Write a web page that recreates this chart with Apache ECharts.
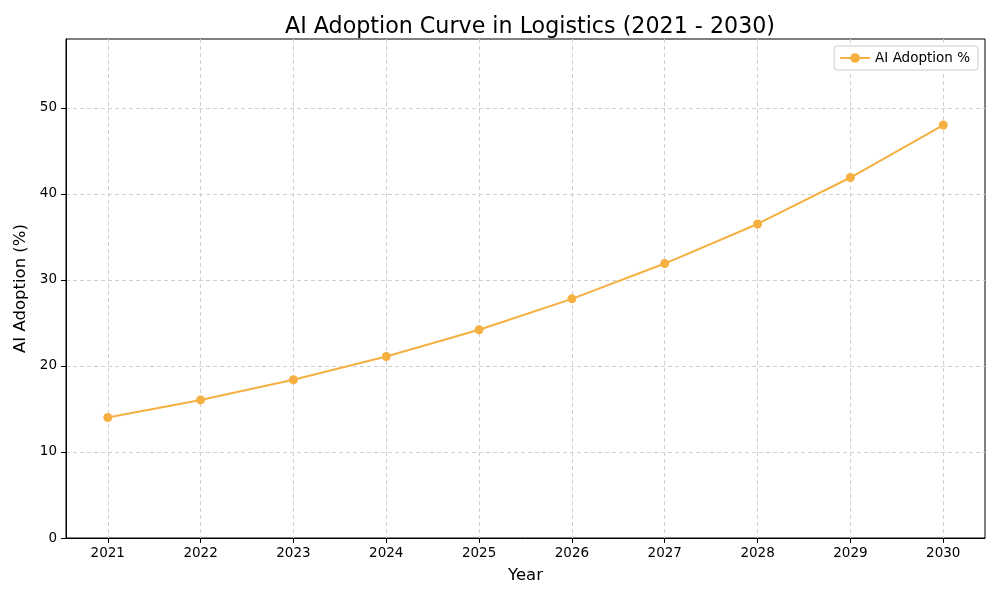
<!DOCTYPE html>
<html><head><meta charset="utf-8">
<script src="https://cdn.jsdelivr.net/npm/echarts@6/dist/echarts.min.js"></script>
<style>html,body{margin:0;padding:0;background:#fff}#c{width:1000px;height:600px}</style>
</head><body><div id="c"></div>
<script>
const years = [2021, 2022, 2023, 2024, 2025, 2026, 2027, 2028, 2029, 2030];
const adoption = [14.0, 16.05, 18.4, 21.1, 24.2, 27.8, 31.9, 36.5, 41.9, 48.0];
const yTicks = [0, 10, 20, 30, 40, 50];
const seriesName = 'AI Adoption %';

const font = 'DejaVu Sans';
const chart = echarts.init(document.getElementById('c'), null, {renderer: 'canvas'});
chart.setOption({
  animation: false,
  backgroundColor: '#fff',
  textStyle: {fontFamily: font},
  title: {
    text: 'AI Adoption Curve in Logistics (2021 - 2030)',
    left: 525, textAlign: 'center', top: 11,
    textStyle: {fontFamily: font, fontSize: 22.2, fontWeight: 'normal', color: '#000'}
  },
  legend: {
    right: 22, top: 46,
    backgroundColor: '#fff', borderColor: '#ccc', borderWidth: 1, borderRadius: 3,
    padding: [5, 8, 5, 5],
    itemWidth: 30, itemHeight: 12, itemGap: 8,
    textStyle: {fontFamily: font, fontSize: 13.5, color: '#000'},
    data: [seriesName]
  },
  grid: {left: 66, right: 15, top: 39, bottom: 62, outerBoundsMode: 'none', show: true, borderColor: '#000', borderWidth: 1, backgroundColor: 'transparent'},
  xAxis: {
    type: 'value', min: 2020.55, max: 2030.45,
    name: 'Year', nameLocation: 'middle', nameGap: 29,
    nameTextStyle: {fontFamily: font, fontSize: 16.5, color: '#000'},
    axisLine: {show: true, lineStyle: {color: '#000', width: 1}},
    axisTick: {show: true, length: 5, lineStyle: {color: '#000'}, customValues: years},
    axisLabel: {customValues: years, formatter: v => String(v), color: '#000', fontSize: 13.5, fontFamily: font, margin: 8},
    splitLine: {show: true, lineStyle: {color: '#cfcfcf', type: [4, 3], width: 1}}
  },
  yAxis: {
    type: 'value', min: 0, max: 58,
    name: 'AI Adoption (%)', nameLocation: 'middle', nameGap: 34,
    nameTextStyle: {fontFamily: font, fontSize: 16.5, color: '#000'},
    axisLine: {show: true, lineStyle: {color: '#000', width: 1}},
    axisTick: {show: true, length: 5, lineStyle: {color: '#000'}, customValues: yTicks},
    axisLabel: {customValues: yTicks, color: '#000', fontSize: 13.5, fontFamily: font, margin: 9},
    splitLine: {show: true, lineStyle: {color: '#cfcfcf', type: [4, 3], width: 1}}
  },
  series: [{
    name: seriesName, type: 'line',
    data: years.map((y, i) => [y, adoption[i]]),
    symbol: 'circle', symbolSize: 9,
    itemStyle: {color: '#F5B041'},
    lineStyle: {color: '#F5B041', width: 2}
  }]
});
</script></body></html>
